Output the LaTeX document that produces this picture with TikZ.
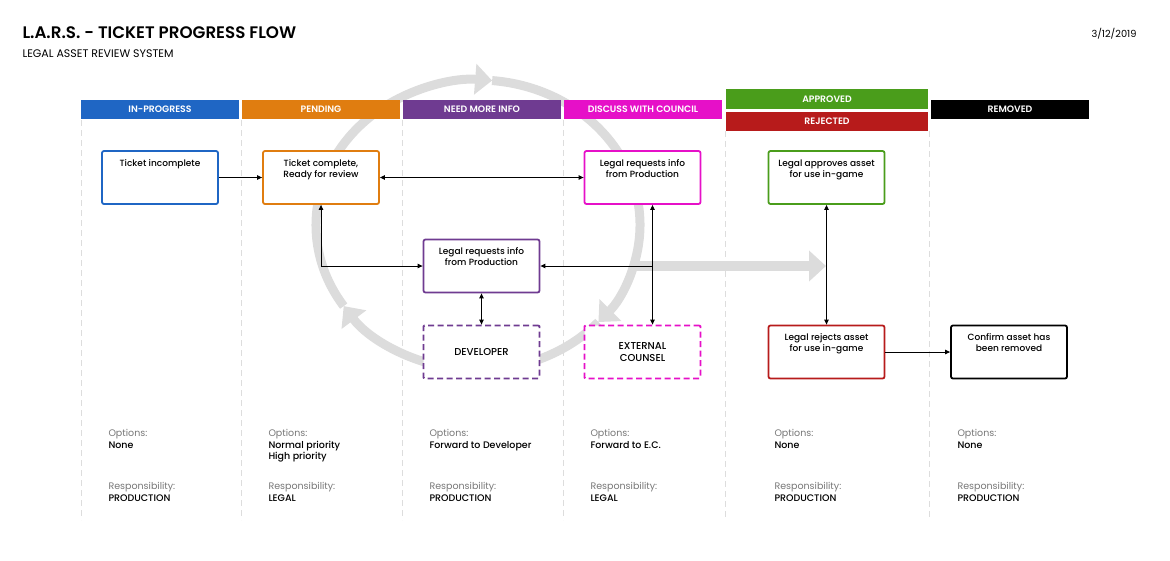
\documentclass[tikz,border=0pt]{standalone}
\usepackage{fontspec}
\setmainfont{Poppins}
\newfontfamily\medfont{Poppins Medium}
\newfontfamily\semifont{Poppins SemiBold}
\usetikzlibrary{arrows.meta}

\definecolor{laneblue}{HTML}{1F66C4}
\definecolor{laneorange}{HTML}{E07D10}
\definecolor{lanepurple}{HTML}{6F3B91}
\definecolor{lanemagenta}{HTML}{E610C8}
\definecolor{lanegreen}{HTML}{4A9D1B}
\definecolor{lanered}{HTML}{B71B1B}
\definecolor{flowgray}{HTML}{DCDCDC}
\definecolor{sepgray}{HTML}{DDDDDD}
\definecolor{notegray}{HTML}{777777}

\newcommand{\toptext}[1]{\parbox[c][50pt][t]{112pt}{\centering\rule{0pt}{13.5pt}#1}}
\newcommand{\notehead}[1]{{\rmfamily\color{notegray}#1}}

\tikzset{
  lane/.style={fill=#1, text=white, font=\fontsize{9.3}{10}\semifont,
    minimum width=158pt, minimum height=19pt, inner sep=0pt},
  stage/.style={draw=#1, fill=white, rounded corners=2pt, line width=1.8pt,
    minimum width=116pt, minimum height=53pt, inner sep=0pt, align=center,
    font=\fontsize{9}{11}\medfont},
  option/.style={stage=#1, dash pattern=on 6pt off 3.5pt, rounded corners=1pt,
    font=\fontsize{10}{12}\medfont},
  note/.style={anchor=north west, inner sep=0pt, align=left, font=\fontsize{9.5}{11.5}\medfont},
  lanesep/.style={draw=sepgray, line width=1pt, dash pattern=on 6pt off 4pt},
  cyclearrow/.style={draw=flowgray, line width=9pt, -{Triangle[length=17pt,width=30pt]}},
}

\begin{document}
\begin{tikzpicture}[x=1pt, y=-1pt, line width=1pt, >={Triangle[length=5pt,width=4.5pt]}]
	\useasboundingbox (0,0) rectangle (1170,560);

	% lane separators
	\foreach \x in {81,241,402,563}
		\draw[lanesep] (\x,120) -- (\x,520);
	\foreach \x in {725,929}
		\draw[lanesep] (\x,131) -- (\x,520);

	% big grey cycle
	\draw[cyclearrow] (478,225) ++(146:162 and 145)
		arc [start angle=146, end angle=275, x radius=162, y radius=145];
	\draw[cyclearrow] (478,225) ++(275:162 and 145)
		arc [start angle=275, end angle=402, x radius=162, y radius=145];
	\draw[cyclearrow] (478,225) ++(42:162 and 145)
		arc [start angle=42, end angle=146, x radius=162, y radius=145];
	\draw[cyclearrow, line width=10pt] (636,266) -- (826,266);

	% title
	\node[anchor=base west, inner sep=0pt, font=\fontsize{16.7}{19}\semifont] (title) at (22,38) {L.A.R.S. - TICKET PROGRESS FLOW};
	\node[anchor=base west, inner sep=0pt, font=\fontsize{11}{12}\selectfont] (subtitle) at (22,57.5) {LEGAL ASSET REVIEW SYSTEM};
	\node[anchor=base east, inner sep=0pt, font=\fontsize{9.8}{11}\selectfont] (date) at (1137,37) {3/12/2019};

	% lane headers
	\node[lane=laneblue] (hprogress) at (160,109.5) {IN-PROGRESS};
	\node[lane=laneorange] (hpending) at (321,109.5) {PENDING};
	\node[lane=lanepurple] (hinfo) at (482,109.5) {NEED MORE INFO};
	\node[lane=lanemagenta] (hcouncil) at (643,109.5) {DISCUSS WITH COUNCIL};
	\node[lane=lanegreen, minimum width=202pt, minimum height=20pt] (happroved) at (827,99) {APPROVED};
	\node[lane=lanered, minimum width=202pt] (hrejected) at (827,121.5) {REJECTED};
	\node[lane=black] (hremoved) at (1010,109.5) {REMOVED};

	% stages
	\node[stage=laneblue] (incomplete) at (160,177.5) {\toptext{Ticket incomplete}};
	\node[stage=laneorange] (complete) at (321,177.5) {\toptext{Ticket complete,\\Ready for review}};
	\node[stage=lanemagenta] (discuss) at (642.5,177.5) {\toptext{Legal requests info\\from Production}};
	\node[stage=lanegreen] (approve) at (826.5,177.5) {\toptext{Legal approves asset\\for use in-game}};
	\node[stage=lanepurple] (request) at (481.5,266) {\toptext{Legal requests info\\from Production}};
	\node[option=lanepurple] (developer) at (481.5,352) {DEVELOPER};
	\node[option=lanemagenta] (counsel) at (642.5,352) {EXTERNAL\\COUNSEL};
	\node[stage=lanered] (reject) at (826.5,352) {\toptext{Legal rejects asset\\for use in-game}};
	\node[stage=black] (removed) at (1009,352) {\toptext{Confirm asset has\\been removed}};

	% connectors
	\draw[->] (incomplete) -- (complete);
	\draw[<->] (complete) -- (discuss);
	\draw[<->] (complete.south) |- (request.west);
	\coordinate (tap) at ([xshift=10pt]discuss.south);
	\draw[<->] (tap) -- (tap |- counsel.north);
	\draw[->] (tap |- request.east) -- (request.east);
	\draw[<->] (request) -- (developer);
	\draw[<->] (approve) -- (reject);
	\draw[->] (reject) -- (removed);

	% notes
	\node[note] (optprogress) at (108,429) {\notehead{Options:}\\None};
	\node[note] (optpending) at (268,429) {\notehead{Options:}\\Normal priority\\High priority};
	\node[note] (optinfo) at (429,429) {\notehead{Options:}\\Forward to Developer};
	\node[note] (optcouncil) at (590,429) {\notehead{Options:}\\Forward to E.C.};
	\node[note] (optapproved) at (774,429) {\notehead{Options:}\\None};
	\node[note] (optremoved) at (957,429) {\notehead{Options:}\\None};

	\node[note] (resprogress) at (108,482) {\notehead{Responsibility:}\\PRODUCTION};
	\node[note] (respending) at (268,482) {\notehead{Responsibility:}\\LEGAL};
	\node[note] (resinfo) at (429,482) {\notehead{Responsibility:}\\PRODUCTION};
	\node[note] (rescouncil) at (590,482) {\notehead{Responsibility:}\\LEGAL};
	\node[note] (resapproved) at (774,482) {\notehead{Responsibility:}\\PRODUCTION};
	\node[note] (resremoved) at (957,482) {\notehead{Responsibility:}\\PRODUCTION};
\end{tikzpicture}
\end{document}
